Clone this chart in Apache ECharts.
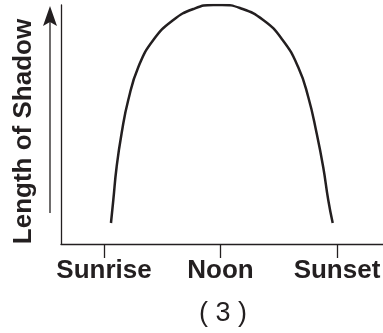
<!DOCTYPE html>
<html>
<head>
<meta charset="utf-8">
<script src="https://cdn.jsdelivr.net/npm/echarts@6/dist/echarts.min.js"></script>
<style>
  html, body { margin: 0; padding: 0; background: #fff; }
  #chart { width: 383px; height: 333px; }
</style>
</head>
<body>
<div id="chart"></div>
<script>
// hours of the day (sunrise = 6, noon = 12, sunset = 18)
var hours = [6.36, 6.48, 6.65, 6.91, 7.25, 7.77, 8.54, 9.57, 10.6, 11.63, 12.08,
             13.0, 14.2, 15.2, 16.0, 16.52, 16.95, 17.29, 17.55, 17.78];
// length of shadow as drawn
var lengths = [21, 44, 77, 111, 144, 177, 204, 224, 235, 239, 239,
               236, 224, 204, 177, 147, 111, 77, 44, 21];
var tickValues = [6, 12, 18];
var tickLabels = ['Sunrise', 'Noon', 'Sunset'];
var yName = 'Length of Shadow';
var caption = '( 3 )';

var ink = '#231f20';
var font = 'Arial, "Liberation Sans", Helvetica, sans-serif';

var points = hours.map(function (h, i) { return [h, lengths[i]]; });

var myChart = echarts.init(document.getElementById('chart'));
var option = {
  animation: false,
  grid: { left: 61, right: 0, top: 5, bottom: 89, outerBoundsMode: 'none', containLabel: false },
  xAxis: {
    type: 'value',
    min: 3.786,
    max: 20.37,
    axisLine: { show: true, lineStyle: { color: ink, width: 1.3 } },
    axisTick: {
      show: true,
      customValues: tickValues,
      length: 14,
      lineStyle: { color: ink, width: 1.3 }
    },
    axisLabel: {
      customValues: tickValues,
      margin: 14,
      color: ink,
      fontFamily: font,
      fontWeight: 'bold',
      fontSize: 26,
      formatter: function (v) {
        return tickLabels[tickValues.indexOf(v)];
      }
    },
    splitLine: { show: false }
  },
  yAxis: {
    type: 'value',
    min: 0,
    max: 239,
    name: yName,
    nameLocation: 'middle',
    nameRotate: 90,
    nameGap: 24,
    nameTextStyle: {
      color: ink,
      fontFamily: font,
      fontWeight: 'bold',
      fontSize: 26,
      padding: [0, 14, 0, 0]
    },
    axisLine: { show: true, lineStyle: { color: ink, width: 1.3 } },
    axisTick: { show: false },
    axisLabel: { show: false },
    splitLine: { show: false }
  },
  graphic: [
    // arrow beside the y axis
    {
      type: 'line',
      shape: { x1: 50, y1: 213, x2: 50, y2: 20 },
      style: { stroke: ink, lineWidth: 1.3 }
    },
    {
      type: 'polygon',
      shape: { points: [[50, 6], [57, 26], [50, 22], [43, 26]] },
      style: { fill: ink }
    },
    {
      type: 'text',
      x: 223,
      y: 314,
      style: {
        text: caption,
        fill: ink,
        font: '27px ' + font,
        align: 'center',
        verticalAlign: 'middle'
      }
    }
  ],
  series: [{
    type: 'line',
    data: points,
    smooth: true,
    symbol: 'none',
    lineStyle: { color: ink, width: 2.5 }
  }]
};
myChart.setOption(option);
</script>
</body>
</html>
